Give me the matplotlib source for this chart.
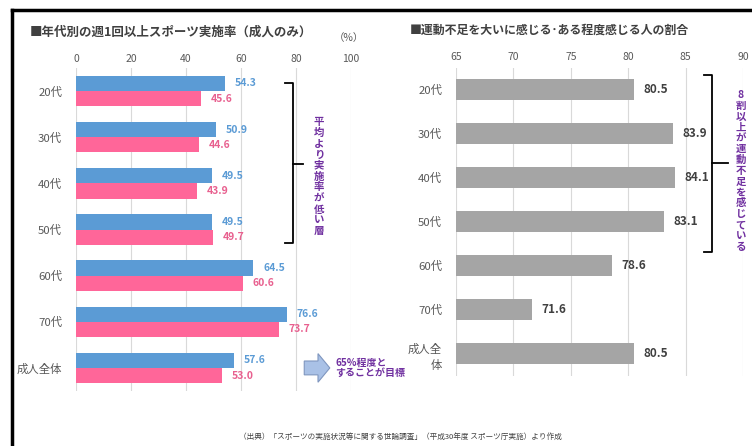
import matplotlib.pyplot as plt
import matplotlib.patches as mpatches
from matplotlib.lines import Line2D

plt.rcParams["font.family"] = ["Noto Sans CJK JP", "DejaVu Sans"]

# 左: 年代別の週1回以上スポーツ実施率
ages_left = ["20代", "30代", "40代", "50代", "60代", "70代", "成人全体"]
rate_a = [54.3, 50.9, 49.5, 49.5, 64.5, 76.6, 57.6]   # 青
rate_b = [45.6, 44.6, 43.9, 49.7, 60.6, 73.7, 53.0]   # ピンク

# 右: 運動不足を感じる人の割合
ages_right = ["20代", "30代", "40代", "50代", "60代", "70代", "成人全\n体"]
lack = [80.5, 83.9, 84.1, 83.1, 78.6, 71.6, 80.5]

BLUE = "#5B9BD5"
PINK = "#FF6699"
BLUE_TXT = "#5B9BD5"
PINK_TXT = "#E8608F"
GRAY = "#A5A5A5"
PURPLE = "#7030A0"
TXT = "#595959"
GRID = "#D9D9D9"

W, H = 752, 446
fig = plt.figure(figsize=(W / 100, H / 100), dpi=100)


def ax_rect(x0, x1, y0, y1):
    return [x0 / W, 1 - y1 / H, (x1 - x0) / W, (y1 - y0) / H]


def style_axes(ax, xpad):
    for s in ax.spines.values():
        s.set_visible(False)
    ax.xaxis.tick_top()
    ax.tick_params(axis="x", length=0, labelsize=7.5, labelcolor=TXT, pad=xpad)
    ax.tick_params(axis="y", length=0, labelsize=8.2, labelcolor=TXT, pad=10)
    ax.grid(axis="x", color=GRID, linewidth=0.8)
    ax.set_axisbelow(True)


# ---- 左グラフ ----
ax1 = fig.add_axes(ax_rect(76, 351, 68, 391))
n = len(ages_left)
pos = list(range(n))
bh = 0.33
ax1.barh([p - bh / 2 for p in pos], rate_a, height=bh, color=BLUE)
ax1.barh([p + bh / 2 for p in pos], rate_b, height=bh, color=PINK)
for p, a, b in zip(pos, rate_a, rate_b):
    ax1.annotate(f"{a:.1f}", (a, p - bh / 2), xytext=(7, 0), textcoords="offset points",
                 va="center", ha="left", fontsize=7.5, color=BLUE_TXT, fontweight="bold")
    ax1.annotate(f"{b:.1f}", (b, p + bh / 2), xytext=(7, 0), textcoords="offset points",
                 va="center", ha="left", fontsize=7.5, color=PINK_TXT, fontweight="bold")
ax1.set_xlim(0, 100)
ax1.set_xticks([0, 20, 40, 60, 80, 100])
ax1.set_ylim(n - 0.5, -0.5)
ax1.set_yticks(pos)
ax1.set_yticklabels(ages_left)
style_axes(ax1, 3)

# 括弧と注記
br = dict(color="black", linewidth=1.3, clip_on=False)
ax1.add_line(Line2D([76, 79, 79, 76], [-0.17, -0.17, 3.3, 3.3], **br))
ax1.add_line(Line2D([79, 82.5], [1.57, 1.57], **br))
ax1.text(88.4, 1.85, "\n".join("平均より実施率が低い層"), ha="center", va="center",
         fontsize=7.5, color=PURPLE, fontweight="bold", linespacing=1.12, clip_on=False)

arrow = mpatches.FancyArrow(83, 6.0, 9.3, 0, width=0.3, head_width=0.62, head_length=4.3,
                            length_includes_head=True, facecolor="#A9C1E6",
                            edgecolor="#7F96BF", linewidth=0.8, clip_on=False)
ax1.add_patch(arrow)
ax1.text(94.3, 6.0, "65%程度と\nすることが目標", ha="left", va="center", fontsize=7.2,
         color=PURPLE, fontweight="bold", linespacing=1.1, clip_on=False)

fig.text(30 / W, 1 - 32 / H, "■年代別の週1回以上スポーツ実施率（成人のみ）", fontsize=9,
         fontweight="bold", color="#404040", va="center")
fig.text(349 / W, 1 - 38 / H, "（%）", fontsize=7.5, color=TXT, va="center", ha="center")

# ---- 右グラフ ----
ax2 = fig.add_axes(ax_rect(456, 743, 67.5, 375.5))
m = len(ages_right)
pos2 = list(range(m))
ax2.barh(pos2, [v - 65 for v in lack], left=65, height=0.48, color=GRAY)
for p, v in zip(pos2, lack):
    ax2.annotate(f"{v:.1f}", (v, p), xytext=(7, 0), textcoords="offset points",
                 va="center", ha="left", fontsize=8.5, color="#404040", fontweight="bold")
ax2.set_xlim(65, 90)
ax2.set_xticks([65, 70, 75, 80, 85, 90])
ax2.set_ylim(m - 0.5, -0.5)
ax2.set_yticks(pos2)
ax2.set_yticklabels(ages_right, linespacing=1.6)
style_axes(ax2, 4)

ax2.add_line(Line2D([86.6, 87.3, 87.3, 86.6], [-0.33, -0.33, 3.69, 3.69], **br))
ax2.add_line(Line2D([87.3, 88.7], [1.67, 1.67], **br))
ax2.text(89.8, 1.85, "\n".join("8割以上が運動不足を感じている"), ha="center", va="center",
         fontsize=7.5, color=PURPLE, fontweight="bold", linespacing=1.1, clip_on=False)

fig.text(410 / W, 1 - 30 / H, "■運動不足を大いに感じる･ある程度感じる人の割合", fontsize=8.6,
         fontweight="bold", color="#404040", va="center")

# 出典
fig.text(400 / W, 1 - 437 / H,
         "（出典）「スポーツの実施状況等に関する世論調査」（平成30年度 スポーツ庁実施）より作成",
         fontsize=5.5, color="#404040", ha="center", va="center")

# 外枠
fig.add_artist(Line2D([12 / W, 12 / W], [0, 1 - 10 / H], color="black", linewidth=2.5))
fig.add_artist(Line2D([12 / W, 1], [1 - 10 / H, 1 - 10 / H], color="black", linewidth=2.5))

fig.savefig("out.png", dpi=100)
